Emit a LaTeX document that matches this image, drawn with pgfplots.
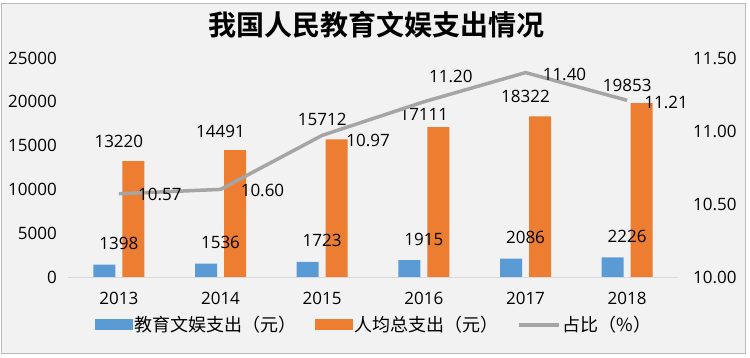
\documentclass[border=0pt]{standalone}
\usepackage{pgfplots}
\pgfplotsset{compat=1.18}
\usepackage{pgfplotstable}
\usepackage{fontspec}
\setmainfont{Open Sans}
\newfontfamily\cjk{Noto Sans CJK SC}
\newfontfamily\cjkb{Noto Sans CJK SC Bold}
\definecolor{cblue}{HTML}{5B9BD5}
\definecolor{corange}{HTML}{ED7D31}
\definecolor{cgrey}{HTML}{A5A5A5}
\definecolor{bgc}{HTML}{F2F2F2}
\pgfplotsset{/pgf/number format/assume math mode=true}
\pgfplotstableread{
x edu total ratio oy ldx ldy
0 1398 13220 10.57 20 41 -1
1 1536 14491 10.60 19 42 -1
2 1723 15712 10.97 20 46 -5
3 1915 17111 11.20 13 27 25
4 2086 18322 11.40 20 39 -2
5 2226 19853 11.21 18 39 -2
}\data
\begin{document}
\begin{tikzpicture}
\useasboundingbox (0pt,0pt) rectangle (750pt,358pt);
\fill[white] (0pt,0pt) rectangle (750pt,358pt);
\filldraw[fill=bgc, draw=gray!55, line width=0.8pt] (1pt,5pt) rectangle (745pt,355pt);
\node[font=\cjkb\fontsize{28}{28}\selectfont] at (376pt,333pt) {我国人民教育文娱支出情况};
\begin{axis}[at={(68pt,81pt)}, anchor=south west, scale only axis,
  width=610pt, height=219pt,
  xmin=-0.5, xmax=5.5, ymin=0, ymax=25000,
  axis x line*=bottom, axis y line*=left,
  y axis line style={draw=none},
  x axis line style={draw=black!15, line width=0.8pt},
  major tick length=0,
  xtick={0,...,5}, xticklabels={2013,2014,2015,2016,2017,2018},
  ytick={0,5000,10000,15000,20000,25000},
  scaled y ticks=false,
  ticklabel style={font=\fontsize{17}{17}\selectfont, inner sep=0pt},
  xticklabel style={anchor=center, yshift=-21pt},
  yticklabel style={anchor=east, xshift=-11pt, /pgf/number format/.cd, 1000 sep={}, fixed},
  legend style={at={(0.5,0)}, anchor=center, yshift=-48pt, xshift=1pt,
    legend columns=3, draw=none, fill=none,
    font=\cjk\fontsize{18}{18}\selectfont,
    /tikz/every even column/.append style={column sep=16pt}},
  legend cell align=left,
]
\addplot[ybar, bar width=22pt, bar shift=-14.5pt, fill=cblue, draw=none,
  nodes near coords,
  nodes near coords style={font=\fontsize{17}{17}\selectfont, anchor=center, inner sep=0pt, yshift=21pt,
    /pgf/number format/.cd, 1000 sep={}, fixed},
  legend image code/.code={\fill[cblue] (0pt,-5.5pt) rectangle (38pt,5.5pt);}]
  table[x=x, y=edu]{\data};
\addlegendentry{教育文娱支出（元）}
\addplot[ybar, bar width=22pt, bar shift=14.5pt, fill=corange, draw=none,
  visualization depends on={\thisrow{oy} \as \oy},
  nodes near coords,
  nodes near coords style={font=\fontsize{17}{17}\selectfont, anchor=center, inner sep=0pt, yshift=\oy pt,
    /pgf/number format/.cd, 1000 sep={}, fixed},
  legend image code/.code={\fill[corange] (0pt,-5.5pt) rectangle (38pt,5.5pt);}]
  table[x=x, y=total]{\data};
\addlegendentry{人均总支出（元）}
\addlegendimage{legend image code/.code={\draw[cgrey, line width=3.5pt] (0pt,0pt) -- (40pt,0pt);}}
\addlegendentry{占比（\%）}
\end{axis}
\begin{axis}[at={(68pt,81pt)}, anchor=south west, scale only axis,
  width=610pt, height=219pt,
  xmin=-0.5, xmax=5.5, ymin=10, ymax=11.5,
  axis y line*=right, hide x axis,
  y axis line style={draw=none},
  major tick length=0,
  ytick={10,10.5,11,11.5},
  ticklabel style={font=\fontsize{17}{17}\selectfont, inner sep=0pt},
  yticklabel style={anchor=west, xshift=15pt, /pgf/number format/.cd, fixed, fixed zerofill, precision=2},
]
\addplot[cgrey, line width=3.5pt, line join=round, mark=none,
  visualization depends on={\thisrow{ldx} \as \ldx},
  visualization depends on={\thisrow{ldy} \as \ldy},
  nodes near coords,
  nodes near coords style={font=\fontsize{17}{17}\selectfont, anchor=center, inner sep=0pt,
    xshift=\ldx pt, yshift=\ldy pt, text=black,
    /pgf/number format/.cd, fixed, fixed zerofill, precision=2}]
  table[x=x, y=ratio]{\data};
\end{axis}
\end{tikzpicture}
\end{document}
